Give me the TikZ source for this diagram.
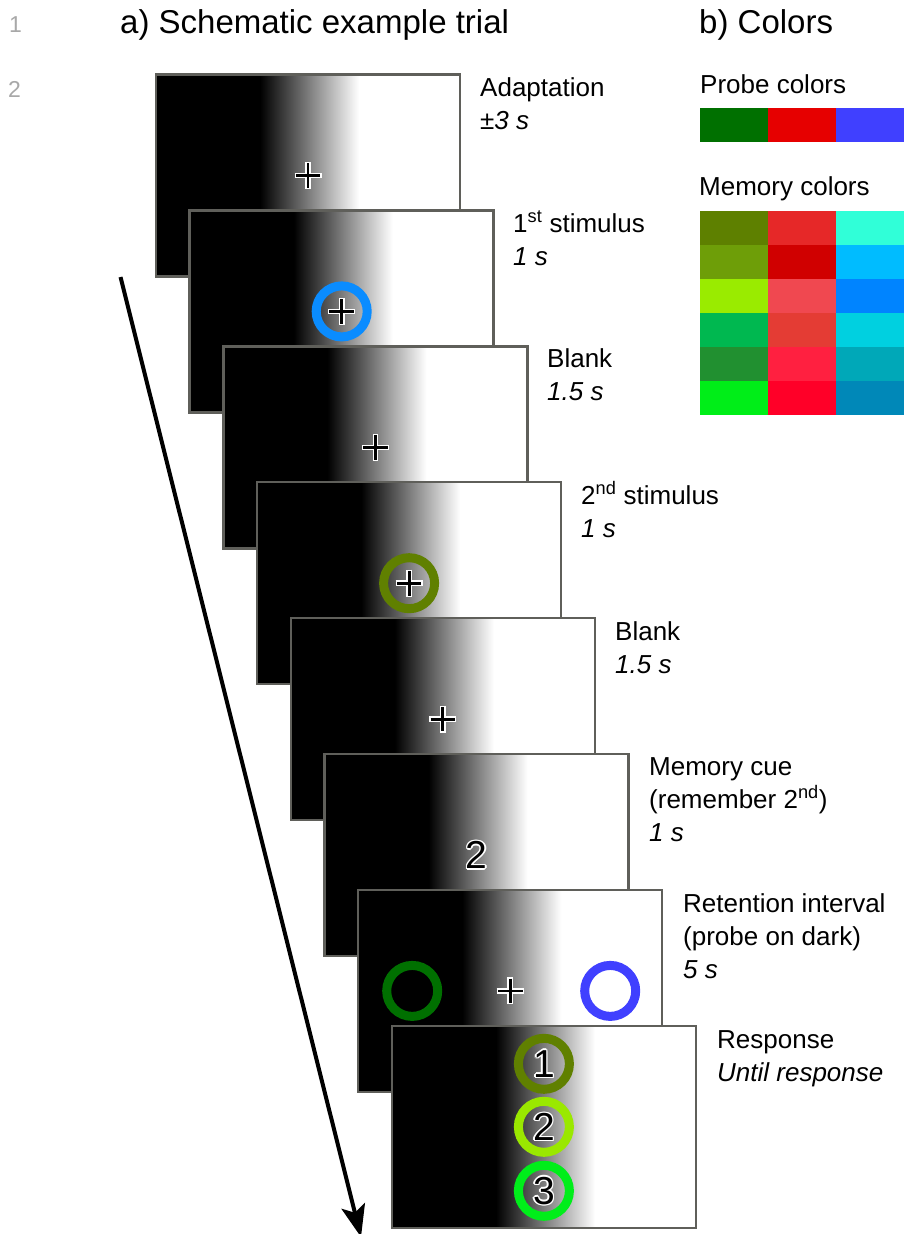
\documentclass[tikz,border=0pt]{standalone}
\usepackage{fontspec}
\setmainfont{Liberation Sans}
\usetikzlibrary{arrows.meta}

% colours
\definecolor{framegray}{HTML}{5F5F5A}
\definecolor{linegray}{HTML}{A8A8A8}
\definecolor{cueblue}{HTML}{0A8CFF}
\definecolor{olive}{HTML}{608000}
\definecolor{lime}{HTML}{9AE800}
\definecolor{brightgreen}{HTML}{00EE1A}
\definecolor{probegreen}{HTML}{007000}
\definecolor{probered}{HTML}{E60000}
\definecolor{probeblue}{HTML}{4040FF}

% digit with a thin white outline
\newcommand\haloed[1]{\rlap{\color{white}%
  \rlap{\kern1.4pt#1}\rlap{\kern-1.4pt#1}%
  \rlap{\raise1.4pt\hbox{#1}}\rlap{\lower1.4pt\hbox{#1}}%
  \rlap{\kern1pt\raise1pt\hbox{#1}}\rlap{\kern-1pt\raise1pt\hbox{#1}}%
  \rlap{\kern1pt\lower1pt\hbox{#1}}\rlap{\kern-1pt\lower1pt\hbox{#1}}}#1}

\tikzset{
  screenbox/.style={draw=framegray, line width=2.5pt, fill=white,
    minimum width=304pt, minimum height=202pt, inner sep=0pt, outer sep=0pt,
    anchor=north west,
    path picture={
      \fill[black] (path picture bounding box.south west)
        rectangle ([xshift=104pt]path picture bounding box.north west);
      \shade[left color=black, right color=white]
        ([xshift=104pt]path picture bounding box.south west)
        rectangle ([xshift=203pt]path picture bounding box.north west);
    }},
  ring/.style={circle, draw=#1, line width=9pt, minimum size=51pt, inner sep=0pt},
  fixation/.pic={
    \draw[white, line width=5.6pt] (-13.5,0) -- (13.5,0) (0,-13.5) -- (0,13.5);
    \draw[black, line width=2.8pt] (-12.3,0) -- (12.3,0) (0,-12.3) -- (0,12.3);
  },
  lbl/.style={anchor=base west, inner sep=0pt, font=\fontsize{26}{31}\selectfont},
  ttl/.style={anchor=base west, inner sep=0pt, font=\fontsize{33}{39}\selectfont},
  lineno/.style={anchor=base west, inner sep=0pt, text=linegray, font=\fontsize{23}{27}\selectfont},
  digit/.style={inner sep=0pt, font=\fontsize{39}{45}\selectfont},
  timearrow/.style={line width=4pt, -{Stealth[length=32pt, width=24pt, inset=7pt]}},
}

\begin{document}
\begin{tikzpicture}[x=1pt, y=-1pt]
\useasboundingbox (0,0) rectangle (904,1234);
\fill[white] (0,0) rectangle (904,1234);

% margin line numbers and headings
\node[lineno] (n1) at (9,32) {1};
\node[lineno] (n2) at (8,97) {2};
\node[ttl] (ta) at (120,33) {a) Schematic example trial};
\node[ttl] (tb) at (699,33) {b) Colors};

% time arrow
\coordinate (tstart) at (120.5,277);
\coordinate (tend) at (361,1237);
\draw[timearrow] (tstart) -- (tend);

% ---- screens of the trial ----
% 1 adaptation
\node[screenbox] (p1) at (156,74.5) {};
\pic at (p1.center) {fixation};
\node[lbl] (l1a) at (480,96) {Adaptation};
\node[lbl] (l1b) at (480,129) {\textit{±3 s}};

% 2 first stimulus
\node[screenbox] (p2) at (189.7,210.4) {};
\node[ring=cueblue] (s1) at (p2.center) {};
\pic at (p2.center) {fixation};
\node[lbl] (l2a) at (513,232) {1\textsuperscript{st} stimulus};
\node[lbl] (l2b) at (513,265) {\textit{1 s}};

% 3 blank
\node[screenbox] (p3) at (223.4,346.3) {};
\pic at (p3.center) {fixation};
\node[lbl] (l3a) at (547,367) {Blank};
\node[lbl] (l3b) at (547,400) {\textit{1.5 s}};

% 4 second stimulus
\node[screenbox] (p4) at (257.1,482.2) {};
\node[ring=olive] (s2) at (p4.center) {};
\pic at (p4.center) {fixation};
\node[lbl] (l4a) at (581,504) {2\textsuperscript{nd} stimulus};
\node[lbl] (l4b) at (581,537) {\textit{1 s}};

% 5 blank
\node[screenbox] (p5) at (290.8,618.1) {};
\pic at (p5.center) {fixation};
\node[lbl] (l5a) at (615,640) {Blank};
\node[lbl] (l5b) at (615,673) {\textit{1.5 s}};

% 6 memory cue
\node[screenbox] (p6) at (324.5,754) {};
\node[digit] (cue) at (p6.center) {\haloed{2}};
\node[lbl] (l6a) at (649,775) {Memory cue};
\node[lbl] (l6b) at (649,808) {(remember 2\textsuperscript{nd})};
\node[lbl] (l6c) at (649,841) {\textit{1 s}};

% 7 retention interval
\node[screenbox] (p7) at (358.2,889.9) {};
\node[ring=probegreen] (pg) at ([xshift=-98pt]p7.center) {};
\node[ring=probeblue] (pb) at ([xshift=100pt]p7.center) {};
\pic at (p7.center) {fixation};
\node[lbl] (l7a) at (683,912) {Retention interval};
\node[lbl] (l7b) at (683,945) {(probe on dark)};
\node[lbl] (l7c) at (683,978) {\textit{5 s}};

% 8 response
\node[screenbox] (p8) at (391.9,1025.8) {};
\node[ring=olive] (o1) at ([yshift=63pt]p8.center) {};
\node[ring=lime] (o2) at (p8.center) {};
\node[ring=brightgreen] (o3) at ([yshift=-64pt]p8.center) {};
\node[digit] (d1) at (o1.center) {\haloed{1}};
\node[digit] (d2) at (o2.center) {\haloed{2}};
\node[digit] (d3) at (o3.center) {\haloed{3}};
\node[lbl] (l8a) at (717,1048) {Response};
\node[lbl] (l8b) at (717,1081) {\textit{Until response}};

% ---- colour sets ----
\node[lbl] (hp) at (700,93) {Probe colors};
\fill[probegreen] (700,108) rectangle (768,142);
\fill[probered] (768,108) rectangle (836,142);
\fill[probeblue] (836,108) rectangle (904,142);

\node[lbl] (hm) at (699,195) {Memory colors};
\foreach \c [count=\r from 0] in {5E8000,6E9E08,9AEB00,00B850,219030,00EE18}{
  \definecolor{cell}{HTML}{\c}
  \fill[cell] (700,211+34*\r) rectangle (768,245+34*\r);
}
\foreach \c [count=\r from 0] in {E62828,D00000,F04850,E43C34,FF2040,FF0028}{
  \definecolor{cell}{HTML}{\c}
  \fill[cell] (768,211+34*\r) rectangle (836,245+34*\r);
}
\foreach \c [count=\r from 0] in {30FFD8,00BCFF,0084FF,00D0E0,00A8B8,0088B8}{
  \definecolor{cell}{HTML}{\c}
  \fill[cell] (836,211+34*\r) rectangle (904,245+34*\r);
}
\end{tikzpicture}
\end{document}
